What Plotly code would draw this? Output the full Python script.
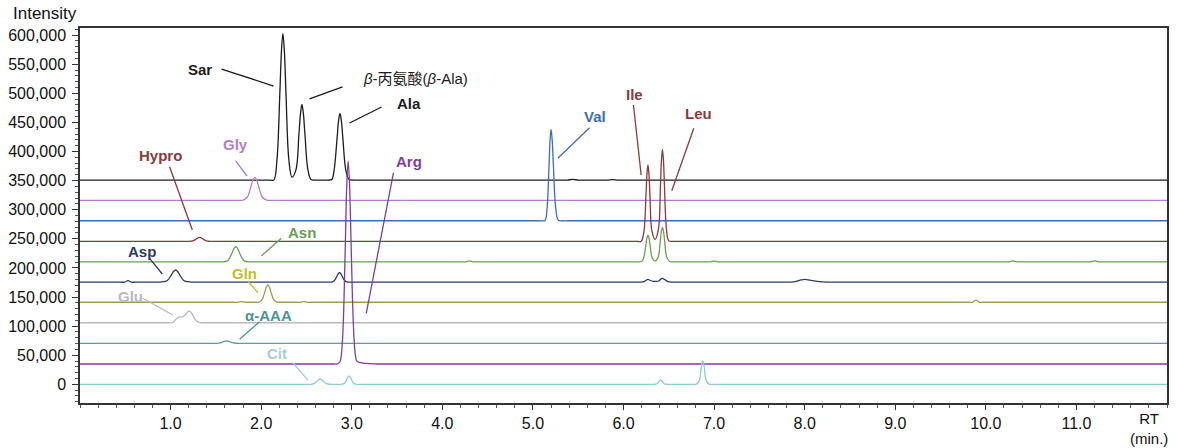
import plotly.graph_objects as go

# ---------------- data (RT in min, intensity) ----------------
black_rt = [0.0, 2.10, 2.14, 2.174, 2.207, 2.224, 2.24, 2.256, 2.273, 2.306,
            2.34, 2.384, 2.417, 2.434, 2.45, 2.466, 2.483, 2.516, 2.55, 2.60,
            2.64, 2.74, 2.78, 2.804, 2.837, 2.854, 2.87, 2.886, 2.903, 2.936,
            2.97, 3.02, 3.07, 5.33, 5.38, 5.44, 5.50, 5.55, 5.77, 5.82,
            5.88, 5.94, 5.99, 12.0]
black_int = [351000, 351000, 351000, 385000, 504000, 573000, 603000, 573000, 504000, 385000,
             356000, 368500, 430000, 465000, 481000, 465000, 430000, 368500, 352000, 351000,
             351000, 351000, 352000, 366500, 420500, 452000, 465500, 452000, 420500, 366500,
             352000, 351000, 351000, 351000, 351000, 352000, 351000, 351000, 351000, 351000,
             351800, 351000, 351000, 351000]

gly_rt = [0.0, 1.72, 1.76, 1.80, 1.846, 1.888, 1.909, 1.93, 1.951, 1.972, 2.014, 2.06, 2.10, 2.14, 12.0]
gly_int = [316000, 316000, 316000, 316500, 321400, 340100, 350900, 355700, 350900, 340100, 321400,
           316500, 316000, 316000, 316000]

val_rt = [0.0, 5.06, 5.10, 5.134, 5.156, 5.178, 5.189, 5.20, 5.213, 5.226, 5.252, 5.28, 5.33, 5.38, 12.0]
val_int = [281000, 281000, 281000, 281500, 302200, 376300, 419200, 438000, 419200, 376300, 302200,
           282000, 281000, 281000, 281000]

brown_rt = [0.0, 1.12, 1.16, 1.21, 1.246, 1.283, 1.30, 1.32, 1.34, 1.357,
            1.394, 1.43, 1.48, 1.52, 6.11, 6.15, 6.196, 6.226, 6.248, 6.259,
            6.27, 6.281, 6.292, 6.314, 6.35, 6.386, 6.408, 6.419, 6.43, 6.441,
            6.452, 6.474, 6.50, 6.55, 6.60, 12.0]
brown_int = [245500, 245500, 245500, 245700, 246500, 249800, 251600, 252500, 251600, 249800,
             246500, 245700, 245500, 245500, 245500, 245500, 246000, 263200, 325200, 361000,
             376800, 361000, 325200, 263200, 249000, 266900, 341600, 384800, 403800, 384800,
             341600, 266900, 246500, 245500, 245500, 245500]

green_rt = [0.0, 1.55, 1.59, 1.62, 1.64, 1.68, 1.70, 1.72, 1.74, 1.76,
            1.80, 1.82, 1.86, 1.90, 4.22, 4.26, 4.30, 4.34, 4.38, 6.11,
            6.15, 6.198, 6.222, 6.246, 6.258, 6.27, 6.282, 6.294, 6.318, 6.35,
            6.382, 6.406, 6.418, 6.43, 6.442, 6.454, 6.478, 6.51, 6.56, 6.60,
            6.92, 6.96, 7.00, 7.04, 7.08, 10.22, 10.26, 10.30, 10.34, 10.38,
            11.12, 11.16, 11.20, 11.24, 11.28, 12.0]
green_int = [210500, 210500, 210500, 211600, 214000, 226200, 233300, 236400, 233300, 226200,
             214000, 211600, 210500, 210500, 210500, 210500, 212000, 210500, 210500, 210500,
             210500, 211000, 216700, 238400, 251000, 256500, 251000, 238400, 216700, 212000,
             218500, 246500, 262700, 269800, 262700, 246500, 218500, 211000, 210500, 210500,
             210500, 210500, 211800, 210500, 210500, 210500, 210500, 212000, 210500, 210500,
             210500, 210500, 212000, 210500, 210500, 210500]

asp_rt = [0.0, 0.45, 0.49, 0.53, 0.57, 0.61, 0.84, 0.88, 0.92, 0.965,
          1.01, 1.032, 1.055, 1.078, 1.10, 1.145, 1.19, 1.24, 1.28, 2.70,
          2.74, 2.775, 2.805, 2.835, 2.85, 2.865, 2.88, 2.895, 2.925, 2.955,
          3.0, 3.04, 6.14, 6.18, 6.23, 6.25, 6.27, 6.29, 6.33, 6.35,
          6.39, 6.41, 6.43, 6.45, 6.49, 6.54, 6.58, 7.80, 7.84, 7.90,
          7.96, 8.00, 8.06, 8.14, 8.24, 8.29, 12.0]
asp_int = [175500, 175500, 175500, 178000, 175500, 175500, 175500, 175500, 176300, 178300,
           188200, 193900, 196400, 193900, 188200, 178300, 176300, 175500, 175500, 175500,
           175500, 175700, 177700, 185300, 189800, 191700, 189800, 185300, 177700, 175700,
           175500, 175500, 175500, 175500, 176500, 178800, 180400, 178800, 176800, 176800,
           177500, 180500, 182100, 180500, 176500, 175500, 175500, 175500, 175500, 176500,
           179300, 180400, 179000, 177000, 175500, 175500, 175500]

gln_rt = [0.0, 1.70, 1.74, 1.78, 1.82, 1.86, 1.94, 1.975, 2.008, 2.041,
          2.057, 2.074, 2.091, 2.107, 2.14, 2.173, 2.21, 2.25, 2.39, 2.43,
          2.47, 2.51, 2.55, 9.81, 9.85, 9.89, 9.93, 9.97, 12.0]
gln_int = [141000, 141000, 141000, 142000, 141000, 141000, 141000, 141300, 145000, 159000,
           167000, 170600, 167000, 159000, 145000, 141300, 141000, 141000, 141000, 141000,
           142000, 141000, 141000, 141000, 141000, 144800, 141000, 141000, 141000]

glu_rt = [0.0, 0.94, 0.98, 1.025, 1.06, 1.09, 1.13, 1.16, 1.19, 1.21, 1.235, 1.26, 1.29, 1.33,
          1.38, 1.42, 12.0]
glu_int = [105800, 105800, 105800, 106200, 112000, 115500, 116000, 119000, 124500, 125900, 122000,
           114000, 108000, 106000, 105800, 105800, 105800]

aaa_rt = [0.0, 1.46, 1.50, 1.55, 1.59, 1.62, 1.65, 1.70, 1.76, 1.80, 12.0]
aaa_int = [70400, 70400, 70400, 71200, 73600, 74400, 73300, 71000, 70400, 70400, 70400]

arg_rt = [0.0, 2.76, 2.80, 2.84, 2.87, 2.885, 2.90, 2.915, 2.93, 2.945, 2.96, 2.976, 2.992, 3.008,
          3.024, 3.04, 3.056, 3.09, 3.15, 3.25, 3.30, 12.0]
arg_int = [34900, 34900, 34900, 35200, 38800, 50200, 82000, 148000, 246600, 341800, 383600, 341800,
           246600, 148000, 82000, 50200, 40000, 37500, 36000, 35000, 34900, 34900]

cit_rt = [0.0, 2.50, 2.54, 2.58, 2.62, 2.65, 2.68, 2.72, 2.77, 2.81,
          2.84, 2.88, 2.92, 2.95, 2.97, 2.99, 3.02, 3.06, 3.10, 6.29,
          6.33, 6.37, 6.39, 6.41, 6.43, 6.45, 6.49, 6.53, 6.76, 6.80,
          6.835, 6.855, 6.865, 6.875, 6.885, 6.895, 6.915, 6.95, 6.99, 12.0]
cit_int = [0, 0, 0, 1200, 6000, 9100, 6000, 1200, 0, 0,
           0, 0, 2000, 10500, 14300, 10500, 2000, 0, 0, 0,
           0, 1000, 4500, 7400, 4500, 1000, 0, 0, 0, 0,
           5500, 24600, 35600, 40500, 35600, 24600, 5500, 0, 0, 0]

x_tick_values = [1, 2, 3, 4, 5, 6, 7, 8, 9, 10, 11]
x_tick_labels = ["1.0", "2.0", "3.0", "4.0", "5.0", "6.0", "7.0", "8.0", "9.0", "10.0", "11.0"]

# ---------------- styles ----------------
C_BLACK = "#1c1c1c"
C_GLY = "#b47cc8"
C_VAL = "#3f6cb5"
C_BROWN = "#8a3a3a"
C_GREEN = "#6a9e55"
C_ASP = "#2b3a6b"
C_GLN = "#9c9d55"
C_GLN_TXT = "#c2bd2a"
C_GLU = "#b9b9b9"
C_AAA = "#5e9c9c"
C_AAA_TXT = "#4d9393"
C_ARG = "#7f3d9c"
C_CIT = "#8ccbd9"
C_CIT_TXT = "#a6cfd0"

series = [
    ("Sar / β-Ala / Ala", black_rt, black_int, C_BLACK),
    ("Gly", gly_rt, gly_int, C_GLY),
    ("Val", val_rt, val_int, C_VAL),
    ("Hypro / Ile / Leu", brown_rt, brown_int, C_BROWN),
    ("Asn", green_rt, green_int, C_GREEN),
    ("Asp", asp_rt, asp_int, C_ASP),
    ("Gln", gln_rt, gln_int, C_GLN),
    ("Glu", glu_rt, glu_int, C_GLU),
    ("α-AAA", aaa_rt, aaa_int, C_AAA),
    ("Arg", arg_rt, arg_int, C_ARG),
    ("Cit", cit_rt, cit_int, C_CIT),
]

fig = go.Figure()
for name, xs, ys, col in series:
    fig.add_trace(go.Scatter(x=xs, y=ys, mode="lines", name=name, hoverinfo="skip",
                             line=dict(color=col, width=1.3, shape="spline", smoothing=1.0)))

# label placement (text x, y ; leader line x0, y0 -> x1, y1), in data units
labels = [
    ("Sar", C_BLACK, True, 1.32, 541700, 1.563, 541700, 2.137, 512500),
    ("<i>β</i>-丙氨酸(<i>β</i>-Ala)", C_BLACK, False, 3.70, 524600, 2.534, 490500, 2.898, 511100),
    ("Ala", C_BLACK, True, 3.627, 482500, 2.976, 449000, 3.329, 476500),
    ("Val", C_VAL, True, 5.68, 459300, 5.275, 388300, 5.625, 440900),
    ("Ile", C_BROWN, True, 6.116, 498800, 6.11, 479900, 6.195, 359600),
    ("Leu", C_BROWN, True, 6.833, 466100, 6.776, 439900, 6.533, 332600),
    ("Arg", C_ARG, True, 3.627, 382000, 3.461, 363600, 3.16, 122000),
    ("Gly", C_GLY, True, 1.712, 411200, 1.717, 384200, 1.842, 357900),
    ("Hypro", C_BROWN, True, 0.884, 392800, 0.989, 373900, 1.24, 265100),
    ("Asn", C_GREEN, True, 2.451, 261700, 2.222, 250900, 2.001, 220400),
    ("Asp", C_ASP, True, 0.68, 227800, 0.768, 216500, 0.908, 189500),
    ("Gln", C_GLN_TXT, True, 1.817, 190700, 1.853, 177500, 1.964, 157400),
    ("Glu", C_GLU, True, 0.553, 150500, 0.694, 147800, 1.025, 119100),
    ("α-AAA", C_AAA_TXT, True, 2.076, 119100, 1.982, 107600, 1.762, 77300),
    ("Cit", C_CIT_TXT, True, 2.175, 52100, 2.35, 37100, 2.515, 7400),
]

for text, col, bold, tx, ty, x0, y0, x1, y1 in labels:
    fig.add_annotation(x=tx, y=ty, xref="x", yref="y", showarrow=False,
                       text=(f"<b>{text}</b>" if bold else text),
                       font=dict(family="Liberation Sans, Arial, Noto Sans CJK SC, sans-serif",
                                 size=15, color=col))
    fig.add_shape(type="line", xref="x", yref="y", x0=x0, y0=y0, x1=x1, y1=y1,
                  line=dict(color=col, width=1.3))

fig.add_annotation(xref="paper", yref="paper", x=-0.0635, y=1.039, xanchor="left", yanchor="middle",
                   text="Intensity", showarrow=False, font=dict(size=17, color="#111"))
fig.add_annotation(xref="paper", yref="paper", x=0.983, y=-0.067, xanchor="center", yanchor="middle",
                   text="RT<br>(min.)", showarrow=False, font=dict(size=15, color="#111"))

fig.update_layout(
    width=1178, height=448,
    margin=dict(l=80, r=11, t=28, b=45, autoexpand=False),
    plot_bgcolor="white", paper_bgcolor="white",
    showlegend=False, hovermode=False,
    font=dict(family="Liberation Sans, Arial, sans-serif", size=16, color="#111"),
)
fig.update_xaxes(
    range=[0, 12], tickmode="array", tickvals=x_tick_values, ticktext=x_tick_labels,
    ticks="outside", ticklen=5, tickwidth=1.3, tickcolor="#333", automargin=False,
    showline=True, linecolor="#333", linewidth=1.5, mirror=True,
    showgrid=False, zeroline=False,
    minor=dict(tickmode="linear", tick0=0, dtick=0.2, ticks="outside", ticklen=3,
               tickcolor="#555", tickwidth=1),
)
fig.update_yaxes(
    range=[-32100, 612200], tickmode="linear", tick0=0, dtick=50000, tickformat=",d",
    ticks="outside", ticklen=6, tickwidth=1.3, tickcolor="#333", automargin=False,
    showline=True, linecolor="#333", linewidth=1.5, mirror=True,
    showgrid=False, zeroline=False, ticklabelstandoff=3,
    minor=dict(tickmode="linear", tick0=0, dtick=10000, ticks="outside", ticklen=3,
               tickcolor="#555", tickwidth=1),
)

fig.write_html("out.html", config={"displayModeBar": False},
               post_script="document.body.style.margin='0px';")
